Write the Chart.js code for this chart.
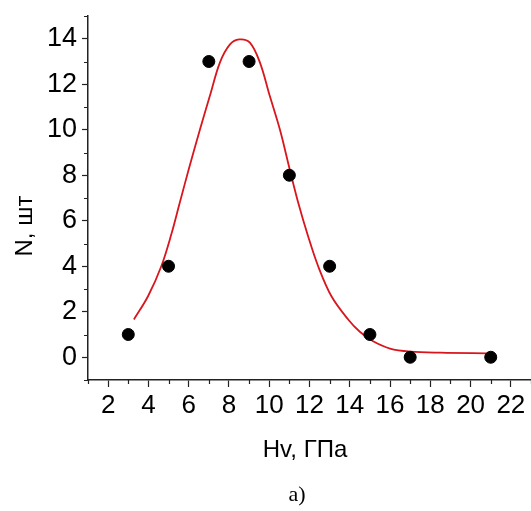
<!DOCTYPE html>
<html>
<head>
<meta charset="utf-8">
<script src="https://cdn.jsdelivr.net/npm/chart.js@4"></script>
<style>
  body { margin: 0; background: #fff; }
  #wrap { position: relative; width: 531px; height: 511px; }
</style>
</head>
<body>
<div id="wrap"><canvas id="chart" width="531" height="511"></canvas></div>
<script>
// measured points
const hvValues = [3, 5, 7, 9, 11, 13, 15, 17, 21];
const nValues = [1, 4, 13, 13, 8, 4, 1, 0, 0];

// fitted curve
const curveX = [3.28, 3.98, 4.64, 5.13, 5.55, 6.0, 6.56, 7.05, 7.55, 8.05, 8.51, 9.04, 9.54, 10.03, 10.53, 11.02, 11.44, 11.93, 12.43, 13.09, 13.92, 14.5, 15.16, 16.0, 17.0, 18.5, 20.95];
const curveY = [1.66, 2.68, 4.0, 5.38, 6.77, 8.25, 10.01, 11.48, 12.95, 13.75, 13.97, 13.83, 12.95, 11.48, 10.01, 8.25, 6.79, 5.32, 4.0, 2.68, 1.66, 1.12, 0.7, 0.38, 0.25, 0.2, 0.17];

// tick labels
const xTicks = [2, 4, 6, 8, 10, 12, 14, 16, 18, 20, 22];
const xMinor = [1, 3, 5, 7, 9, 11, 13, 15, 17, 19, 21, 23];
const yTicks = [0, 2, 4, 6, 8, 10, 12, 14];
const yMinor = [-1, 1, 3, 5, 7, 9, 11, 13, 15];

const xTitle = 'Hv, ГПа';
const yTitle = 'N, шт';
const caption = 'a)';

const sansFont = '"Liberation Sans", Arial, sans-serif';

const extras = {
  id: 'extras',
  afterDraw(chart) {
    const ctx = chart.ctx;
    const xs = chart.scales.x, ys = chart.scales.y;
    const area = chart.chartArea;
    ctx.save();
    ctx.strokeStyle = '#222';
    ctx.lineWidth = 1.2;
    ctx.beginPath();
    xMinor.forEach(v => {
      const px = Math.round(xs.getPixelForValue(v)) + 0.5;
      ctx.moveTo(px, area.bottom);
      ctx.lineTo(px, area.bottom + 4);
    });
    yMinor.forEach(v => {
      const py = Math.round(ys.getPixelForValue(v)) + 0.5;
      ctx.moveTo(area.left, py);
      ctx.lineTo(area.left - 4, py);
    });
    ctx.stroke();

    // axis titles
    ctx.fillStyle = '#000';
    ctx.font = '24px ' + sansFont;
    ctx.textAlign = 'center';
    ctx.textBaseline = 'middle';
    ctx.fillText(xTitle, 305, 450);
    ctx.save();
    ctx.translate(25, 226);
    ctx.rotate(-Math.PI / 2);
    ctx.fillText(yTitle, 0, 0);
    ctx.restore();

    ctx.font = '22px "Liberation Serif", "Times New Roman", serif';
    ctx.fillText(caption, 297, 495);
    ctx.restore();
  }
};

new Chart(document.getElementById('chart'), {
  type: 'scatter',
  data: {
    datasets: [
      {
        label: 'N',
        data: hvValues.map((x, i) => ({ x: x, y: nValues[i] })),
        backgroundColor: '#000',
        borderColor: '#000',
        pointRadius: 6,
        pointHoverRadius: 6,
        order: 1
      },
      {
        label: 'fit',
        type: 'line',
        data: curveX.map((x, i) => ({ x: x, y: curveY[i] })),
        borderColor: '#d9161c',
        borderWidth: 1.8,
        pointRadius: 0,
        fill: false,
        tension: 0.35,
        order: 2
      }
    ]
  },
  plugins: [extras],
  options: {
    responsive: false,
    animation: false,
    layout: { autoPadding: false, padding: { top: 16, right: 0, left: 0, bottom: 0 } },
    plugins: {
      legend: { display: false },
      tooltip: { enabled: false }
    },
    scales: {
      x: {
        type: 'linear',
        min: 1,
        max: 23,
        afterBuildTicks: s => { s.ticks = xTicks.map(v => ({ value: v })); },
        afterFit: s => { s.height = 131; s.paddingLeft = 0; s.paddingRight = 0; },
        border: { display: true, color: '#222', width: 1.5 },
        grid: { drawOnChartArea: false, drawTicks: true, tickLength: 7, tickColor: '#222', tickWidth: 1.2 },
        ticks: { color: '#000', padding: 3, maxRotation: 0, autoSkip: false, font: { family: sansFont, size: 26 } }
      },
      y: {
        min: -1,
        max: 15,
        afterBuildTicks: s => { s.ticks = yTicks.map(v => ({ value: v })); },
        afterFit: s => { s.width = 88; s.paddingTop = 0; s.paddingBottom = 0; },
        border: { display: true, color: '#222', width: 1.5 },
        grid: { drawOnChartArea: false, drawTicks: true, tickLength: 6, tickColor: '#222', tickWidth: 1.2 },
        ticks: { color: '#000', padding: 5, autoSkip: false, font: { family: sansFont, size: 27 } }
      }
    }
  }
});
</script>
</body>
</html>
